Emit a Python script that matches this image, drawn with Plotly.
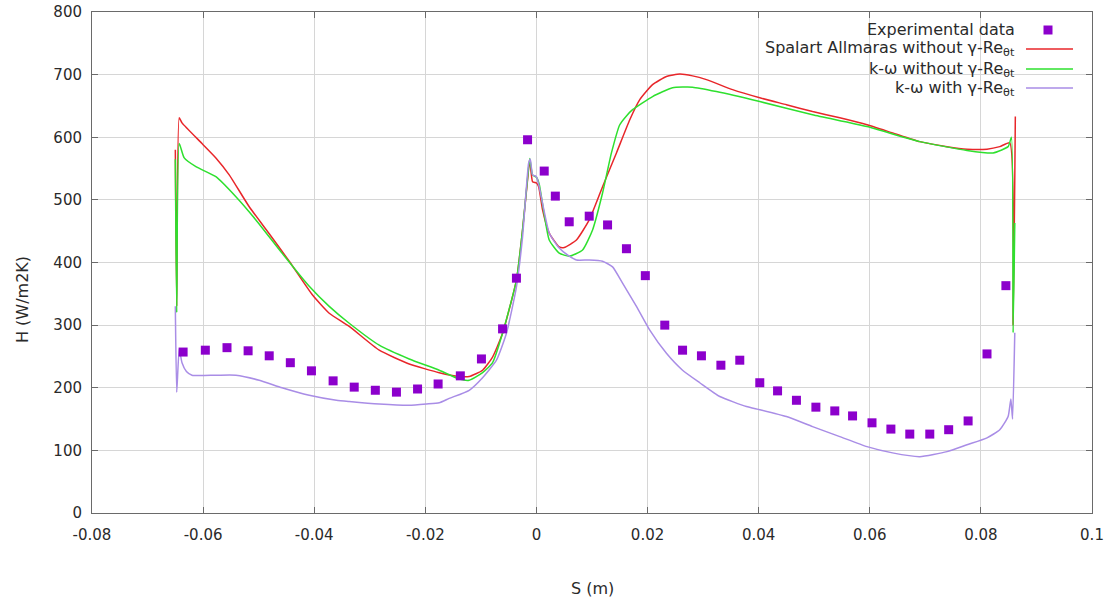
import plotly.graph_objects as go

# Experimental heat transfer coefficient along the blade surface
exp_s = [-0.0636, -0.0596, -0.0557, -0.0519, -0.0481, -0.0443, -0.0405, -0.0366,
         -0.0328, -0.0290, -0.0252, -0.0214, -0.0177, -0.0137, -0.0099, -0.0061,
         -0.0036, -0.0016, 0.0014, 0.0034, 0.0059, 0.0095, 0.0128, 0.0162,
         0.0196, 0.0231, 0.0263, 0.0297, 0.0332, 0.0366, 0.0402, 0.0434,
         0.0468, 0.0503, 0.0537, 0.0569, 0.0604, 0.0638, 0.0672, 0.0708,
         0.0742, 0.0777, 0.0811, 0.0845]
exp_h = [257, 260, 264, 259, 251, 240, 227, 211,
         201, 196, 193, 198, 206, 219, 246, 294,
         375, 596, 546, 506, 465, 474, 460, 422,
         379, 300, 260, 251, 236, 244, 208, 195,
         180, 169, 163, 155, 144, 134, 126, 126,
         133, 147, 254, 363]

# Spalart Allmaras without gamma-Re_theta_t
sa_s = [-0.0650, -0.06475, -0.0643, -0.0638, -0.0602, -0.0577, -0.0553, -0.0517,
        -0.0481, -0.0445, -0.0403, -0.0373, -0.0337, -0.0283, -0.0229, -0.0175,
        -0.0139, -0.0121, -0.0097, -0.0079, -0.0061, -0.0036, -0.0025, -0.0016,
        -0.0012, -0.0007, 0.0000, 0.0004, 0.0011, 0.0023, 0.0041, 0.0050,
        0.0072, 0.0095, 0.0119, 0.0144, 0.0168, 0.0186, 0.0209, 0.0234,
        0.0258, 0.0281, 0.0306, 0.0353, 0.0402, 0.0450, 0.0497, 0.0546,
        0.0595, 0.0641, 0.0690, 0.0739, 0.0775, 0.0811, 0.0834, 0.0852,
        0.0858, 0.0862]
sa_h = [580, 330, 631, 623, 590, 567, 540, 489,
        446, 402, 348, 319, 298, 260, 238, 224,
        218, 218, 228, 249, 287, 372, 452, 532,
        564, 529, 527, 521, 484, 447, 425, 424,
        436, 468, 521, 575, 628, 660, 684, 697,
        701, 698, 692, 676, 663, 652, 641, 631,
        620, 607, 593, 585, 581, 581, 585, 591,
        300, 633]

# k-omega without gamma-Re_theta_t
kw_s = [-0.0650, -0.06475, -0.0643, -0.0634, -0.0613, -0.0577, -0.0541, -0.0505,
        -0.0458, -0.0409, -0.0373, -0.0337, -0.0283, -0.0229, -0.0175, -0.0139,
        -0.0121, -0.0097, -0.0079, -0.0061, -0.0036, -0.0025, -0.0016, -0.0012,
        -0.0007, 0.0000, 0.0005, 0.0023, 0.0041, 0.0059, 0.0083, 0.0101,
        0.0119, 0.0135, 0.0150, 0.0162, 0.0173, 0.0209, 0.0245, 0.0281,
        0.0324, 0.0402, 0.0497, 0.0595, 0.0690, 0.0775, 0.0822, 0.0849,
        0.0855, 0.0858, 0.0861]
kw_h = [565, 320, 590, 567, 553, 537, 505, 468,
        415, 362, 330, 303, 268, 246, 228, 214,
        212, 224, 240, 287, 372, 452, 535, 566,
        540, 536, 525, 436, 415, 410, 420, 452,
        511, 575, 620, 634, 644, 665, 679, 680,
        673, 657, 636, 617, 593, 579, 575, 585,
        600, 288, 463]

# k-omega with gamma-Re_theta_t transition model
kwt_s = [-0.0650, -0.06475, -0.0643, -0.0638, -0.0630, -0.0620, -0.0577, -0.0541,
         -0.0499, -0.0458, -0.0409, -0.0360, -0.0337, -0.0283, -0.0229, -0.0198,
         -0.0175, -0.0157, -0.0121, -0.0097, -0.0072, -0.0054, -0.0036, -0.0025,
         -0.0014, -0.0011, -0.0007, 0.0000, 0.0005, 0.0023, 0.0041, 0.0059,
         0.0072, 0.0095, 0.0119, 0.0137, 0.0155, 0.0180, 0.0204, 0.0234,
         0.0263, 0.0294, 0.0330, 0.0378, 0.0402, 0.0450, 0.0497, 0.0546,
         0.0595, 0.0641, 0.0690, 0.0739, 0.0775, 0.0811, 0.0834, 0.0849,
         0.0854, 0.0857, 0.0861]
kwt_h = [330, 193, 262, 240, 226, 220, 220, 220,
         212, 200, 188, 180, 178, 174, 172, 174,
         176, 183, 196, 216, 244, 287, 361, 441,
         559, 565, 540, 537, 521, 447, 423, 410,
         404, 404, 402, 393, 367, 330, 292, 255,
         228, 208, 186, 170, 165, 154, 138, 122,
         106, 96, 90, 98, 109, 120, 133, 154,
         182, 150, 288]

x_ticks = [-0.08, -0.06, -0.04, -0.02, 0, 0.02, 0.04, 0.06, 0.08, 0.1]
x_tick_text = ["-0.08", "-0.06", "-0.04", "-0.02", "0", "0.02", "0.04", "0.06", "0.08", "0.1"]
y_ticks = [0, 100, 200, 300, 400, 500, 600, 700, 800]

legend_labels = ["Experimental data",
                 "Spalart Allmaras without γ-Re<sub>θt</sub>",
                 "k-ω without γ-Re<sub>θt</sub>",
                 "k-ω with γ-Re<sub>θt</sub>"]

RED = "#e8262a"
GREEN = "#2ee02e"
LAVENDER = "#a98de6"
VIOLET = "#8c00cc"
FONT = "DejaVu Sans"
TEXT = "#2a2a2a"

W, H = 1115, 601
ML, MR, MT, MB = 92, 23, 12, 88
PW, PH = W - ML - MR, H - MT - MB


def px_to_paper(px, py):
    return (px - ML) / PW, 1 - (py - MT) / PH


fig = go.Figure()
curve_line = dict(width=1.5, shape="spline", smoothing=0.5)
fig.add_trace(go.Scatter(x=sa_s, y=sa_h, mode="lines",
                         line=dict(color=RED, **curve_line), showlegend=False))
fig.add_trace(go.Scatter(x=kw_s, y=kw_h, mode="lines",
                         line=dict(color=GREEN, **curve_line), showlegend=False))
fig.add_trace(go.Scatter(x=kwt_s, y=kwt_h, mode="lines",
                         line=dict(color=LAVENDER, **curve_line), showlegend=False))
fig.add_trace(go.Scatter(x=exp_s, y=exp_h, mode="markers",
                         marker=dict(symbol="square", size=9, color=VIOLET),
                         showlegend=False))

axis_common = dict(
    showgrid=True, gridcolor="#d6d6d6", gridwidth=1,
    showline=True, linecolor="#6a6a6a", linewidth=1, mirror="allticks",
    ticks="inside", ticklen=6, tickcolor="#6a6a6a",
    zeroline=False, automargin=False,
    tickfont=dict(family=FONT, size=15, color=TEXT),
)

fig.update_xaxes(range=[-0.08, 0.1], tickvals=x_ticks, ticktext=x_tick_text,
                 ticklabelstandoff=8, **axis_common)
fig.update_yaxes(range=[0, 800], tickvals=y_ticks, ticklabelstandoff=6, **axis_common)

annotations = []
for text, (px, py), angle in [("S (m)", (592, 588), 0), ("H (W/m2K)", (22, 300), -90)]:
    ax, ay = px_to_paper(px, py)
    annotations.append(dict(text=text, x=ax, y=ay, xref="paper", yref="paper",
                            xanchor="center", yanchor="middle", textangle=angle,
                            showarrow=False, font=dict(family=FONT, size=16, color=TEXT)))

# Key: right-aligned labels followed by the sample mark
key_rows = [30, 49, 69, 88]
shapes = []
for i, (label, row) in enumerate(zip(legend_labels, key_rows)):
    lx, ly = px_to_paper(1017, row)
    annotations.append(dict(text=label, x=lx, y=ly, xref="paper", yref="paper",
                            xanchor="right", yanchor="middle", showarrow=False,
                            font=dict(family=FONT, size=16, color=TEXT)))
    if i == 0:
        cx, cy = px_to_paper(1048, row)
        fig.add_trace(go.Scatter(x=[cx], y=[cy], xaxis="x2", yaxis="y2", mode="markers",
                                 marker=dict(symbol="square", size=9, color=VIOLET),
                                 showlegend=False, hoverinfo="skip"))
    else:
        x0, yy = px_to_paper(1026, row)
        x1, _ = px_to_paper(1073, row)
        color = [RED, GREEN, LAVENDER][i - 1]
        shapes.append(dict(type="line", xref="paper", yref="paper", x0=x0, x1=x1,
                           y0=yy, y1=yy, line=dict(color=color, width=1.5)))

fig.update_layout(
    width=W, height=H,
    margin=dict(l=ML, r=MR, t=MT, b=MB),
    paper_bgcolor="white", plot_bgcolor="white",
    xaxis2=dict(overlaying="x", range=[0, 1], visible=False),
    yaxis2=dict(overlaying="y", range=[0, 1], visible=False),
    annotations=annotations,
    shapes=shapes,
    showlegend=False,
)

fig.write_html("out.html")
